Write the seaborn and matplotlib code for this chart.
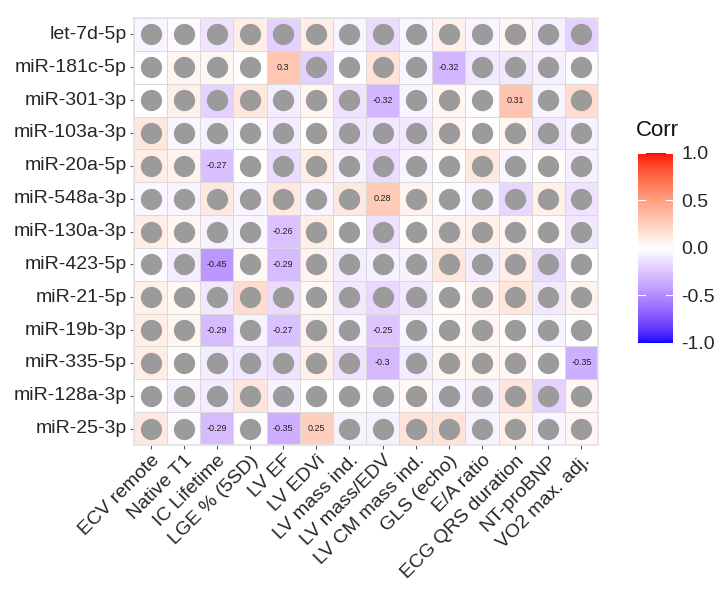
import numpy as np
import pandas as pd
import matplotlib
matplotlib.use("Agg")
import matplotlib.pyplot as plt
import seaborn as sns
from matplotlib.colors import ListedColormap

mirnas = ["let-7d-5p", "miR-181c-5p", "miR-301-3p", "miR-103a-3p", "miR-20a-5p",
          "miR-548a-3p", "miR-130a-3p", "miR-423-5p", "miR-21-5p", "miR-19b-3p",
          "miR-335-5p", "miR-128a-3p", "miR-25-3p"]
variables = ["ECV remote", "Native T1", "IC Lifetime", "LGE % (5SD)", "LV EF", "LV EDVi",
             "LV mass ind.", "LV mass/EDV", "LV CM mass ind.", "GLS (echo)", "E/A ratio",
             "ECG QRS duration", "NT-proBNP", "VO2 max. adj."]

corr_values = [
    [-0.05, -0.02, -0.12, 0.10, -0.20, 0.10, -0.05, -0.15, -0.05, 0.08, -0.05, 0.05, -0.07, -0.20],
    [0.00, 0.06, 0.06, 0.00, 0.30, -0.20, -0.01, 0.15, -0.04, -0.32, -0.10, -0.10, -0.07, -0.03],
    [0.00, 0.08, -0.20, 0.13, -0.08, 0.06, -0.12, -0.32, -0.05, 0.06, -0.02, 0.31, -0.05, 0.18],
    [0.13, -0.04, -0.07, -0.03, -0.08, 0.02, -0.10, -0.10, -0.10, 0.06, 0.01, 0.06, -0.10, -0.06],
    [0.10, 0.07, -0.27, 0.01, -0.15, 0.10, -0.06, -0.15, -0.05, 0.02, 0.12, -0.04, 0.02, -0.07],
    [-0.04, -0.05, 0.12, -0.05, 0.12, -0.05, 0.12, 0.28, 0.07, -0.02, -0.05, -0.17, 0.08, -0.12],
    [0.10, 0.05, -0.06, -0.04, -0.26, 0.10, 0.00, -0.13, 0.03, 0.07, 0.08, 0.06, 0.02, -0.10],
    [-0.03, -0.08, -0.45, 0.04, -0.29, 0.07, -0.08, -0.07, -0.06, 0.13, -0.08, 0.10, -0.15, 0.00],
    [0.08, 0.04, -0.10, 0.18, -0.15, 0.04, -0.10, -0.17, -0.10, 0.03, 0.07, 0.13, -0.10, 0.07],
    [0.10, 0.06, -0.29, -0.06, -0.27, 0.07, -0.04, -0.25, -0.04, 0.03, 0.06, 0.02, -0.05, 0.00],
    [0.10, 0.01, -0.08, -0.10, -0.12, 0.08, -0.12, -0.30, -0.08, 0.06, 0.06, 0.05, 0.01, -0.35],
    [0.00, -0.05, -0.08, 0.14, -0.06, 0.00, 0.00, -0.03, 0.04, -0.05, -0.06, 0.14, -0.20, 0.05],
    [0.12, -0.02, -0.29, 0.01, -0.35, 0.25, -0.06, -0.07, 0.15, 0.15, -0.06, 0.08, -0.04, 0.05],
]

# significant cells (row, col) -> shown as text, others get a grey circle
significant = [(1, 4), (1, 9), (2, 7), (2, 11), (4, 2), (5, 7), (6, 4), (7, 2), (7, 4),
               (9, 2), (9, 4), (9, 7), (10, 7), (10, 13), (12, 2), (12, 4), (12, 5)]

df = pd.DataFrame(corr_values, index=mirnas, columns=variables)


# ---- blue-white-red gradient interpolated in CIELAB (like ggplot2 gradient2) ----
def srgb_to_lab(rgb):
    rgb = np.asarray(rgb, float)
    lin = np.where(rgb <= 0.04045, rgb / 12.92, ((rgb + 0.055) / 1.055) ** 2.4)
    M = np.array([[0.4124, 0.3576, 0.1805], [0.2126, 0.7152, 0.0722], [0.0193, 0.1192, 0.9505]])
    xyz = lin @ M.T / np.array([0.95047, 1.0, 1.08883])
    f = np.where(xyz > 0.008856, np.cbrt(xyz), 7.787 * xyz + 16 / 116)
    return np.stack([116 * f[..., 1] - 16, 500 * (f[..., 0] - f[..., 1]), 200 * (f[..., 1] - f[..., 2])], -1)


def lab_to_srgb(lab):
    L, a, b = lab[..., 0], lab[..., 1], lab[..., 2]
    fy = (L + 16) / 116
    fx = fy + a / 500
    fz = fy - b / 200
    f = np.stack([fx, fy, fz], -1)
    xyz = np.where(f ** 3 > 0.008856, f ** 3, (f - 16 / 116) / 7.787) * np.array([0.95047, 1.0, 1.08883])
    Minv = np.array([[3.2406, -1.5372, -0.4986], [-0.9689, 1.8758, 0.0415], [0.0557, -0.2040, 1.0570]])
    lin = xyz @ Minv.T
    lin = np.clip(lin, 0, 1)
    return np.clip(np.where(lin <= 0.0031308, 12.92 * lin, 1.055 * lin ** (1 / 2.4) - 0.055), 0, 1)


lab_blue = srgb_to_lab([0, 0, 1])
lab_white = srgb_to_lab([1, 1, 1])
lab_red = srgb_to_lab([1, 0, 0])
t = np.linspace(0, 1, 128)[:, None]
lower = lab_blue * (1 - t) + lab_white * t
upper = lab_white * (1 - t) + lab_red * t
cmap = ListedColormap(lab_to_srgb(np.vstack([lower, upper])))

plt.rcParams['font.family'] = ['Liberation Sans', 'DejaVu Sans']

fig = plt.figure(figsize=(7.24, 5.97), dpi=100)
ax = fig.add_axes([134 / 724, 1 - 445 / 597, 464 / 724, 427 / 597])
cax = fig.add_axes([638 / 724, 1 - 343 / 597, 35 / 724, 190 / 597])

sns.heatmap(df, ax=ax, cbar_ax=cax, cmap=cmap, vmin=-1, vmax=1,
            linewidths=0.6, linecolor="#d9d9d9", square=False)

sig_set = set(significant)
xs, ys = [], []
for i in range(len(mirnas)):
    for j in range(len(variables)):
        if (i, j) in sig_set:
            v = corr_values[i][j]
            ax.text(j + 0.5, i + 0.5, f"{v:g}", ha="center", va="center", fontsize=6.5, color="#222222")
        else:
            xs.append(j + 0.5)
            ys.append(i + 0.5)
ax.scatter(xs, ys, s=235, color="#9b9b9b", linewidths=0, zorder=3)

ax.set_xlabel("")
ax.set_ylabel("")
ax.set_xticks(np.arange(len(variables)) + 0.5)
ax.set_xticklabels(variables, rotation=45, ha="right", rotation_mode="anchor", fontsize=14, color="#262626")
ax.set_yticks(np.arange(len(mirnas)) + 0.5)
ax.set_yticklabels(mirnas, rotation=0, fontsize=14, color="#262626")
ax.tick_params(axis="both", length=3, width=0.8, color="#555555", pad=2)
for s in ax.spines.values():
    s.set_visible(True)
    s.set_color("#e3e3e3")
    s.set_linewidth(1.2)

cax.set_yticks([-1, -0.5, 0, 0.5, 1])
cax.set_yticklabels(["-1.0", "-0.5", "0.0", "0.5", "1.0"], fontsize=14, color="#262626")
cax.tick_params(length=0, pad=6)
for v in [-1, -0.5, 0.5, 1]:
    cax.axhline(v, xmin=0, xmax=0.2, color="white", lw=0.8)
    cax.axhline(v, xmin=0.8, xmax=1, color="white", lw=0.8)
for s in cax.spines.values():
    s.set_visible(False)
fig.text(636 / 724, 1 - 130 / 597, "Corr", fontsize=16, ha="left", va="center", color="#111111")

fig.savefig("out.png", dpi=100, facecolor="white")
